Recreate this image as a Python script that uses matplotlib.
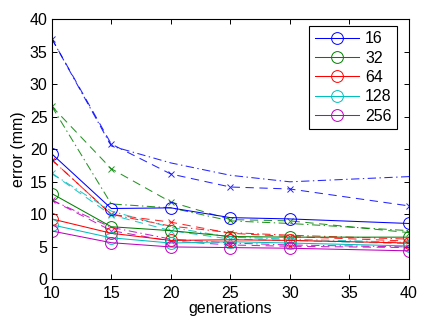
import numpy as np
import matplotlib
matplotlib.use('Agg')
import matplotlib.pyplot as plt

plt.rcParams['font.family'] = ['Liberation Sans', 'DejaVu Sans']
plt.rcParams['lines.scale_dashes'] = False

generations = [10, 15, 20, 25, 30, 40]
sizes = ['16', '32', '64', '128', '256']
colors = ['#0000ff', '#008000', '#ff0000', '#00bfbf', '#bf00bf']

# solid lines with circles
err_solid = [
    [19.3, 10.9, 11.0, 9.5, 9.3, 8.6],
    [13.2, 8.1, 7.5, 6.6, 6.5, 6.5],
    [9.3, 7.1, 6.0, 6.1, 6.0, 5.6],
    [8.4, 6.4, 5.6, 5.8, 5.6, 5.15],
    [7.45, 5.65, 5.0, 4.9, 4.8, 4.4],
]
# dashed lines with crosses
err_dashed = [
    [37.0, 20.8, 16.2, 14.2, 13.9, 11.3],
    [26.6, 17.0, 11.9, 9.2, 9.0, 7.2],
    [18.4, 10.0, 8.8, 7.1, 6.6, 5.9],
    [16.3, 9.9, 7.5, 6.2, 6.0, 5.5],
    [12.2, 7.5, 5.9, 5.3, 5.1, 4.9],
]
# dash-dot lines, no markers
err_dashdot = [
    [37.0, 20.5, 17.9, 16.0, 15.0, 15.8],
    [26.6, 11.6, 11.0, 9.0, 8.6, 7.5],
    [18.4, 10.0, 8.2, 7.2, 6.8, 6.2],
    [16.3, 10.5, 8.0, 6.5, 6.2, 5.7],
    [12.2, 8.0, 6.2, 5.6, 5.3, 5.0],
]

fig = plt.figure(figsize=(4.31, 3.22), dpi=100)
ax = fig.add_axes([0.12, 0.132, 0.829, 0.809])

lw = 0.75
for i, c in enumerate(colors):
    ax.plot(generations, err_dashdot[i], color=c, lw=lw, alpha=0.85,
            linestyle=(0, (6, 2.5, 1, 2.5)))
    ax.plot(generations, err_dashed[i], color=c, lw=lw, alpha=0.85,
            linestyle=(0, (6, 4)), marker='x', markersize=4, mew=0.7)
for i, c in enumerate(colors):
    ax.plot(generations, err_solid[i], color=c, lw=lw, marker='o',
            markersize=8.5, mfc='none', mew=0.7, label=sizes[i])

ax.set_xlim(10, 40)
ax.set_ylim(0, 40)
ax.set_xticks([10, 15, 20, 25, 30, 35, 40])
ax.set_yticks(np.arange(0, 41, 5))
ax.tick_params(direction='in', top=True, right=True, length=3.5,
               width=0.7, labelsize=11.5)
ax.tick_params(axis='x', pad=5)
ax.tick_params(axis='y', pad=3)
for sp in ax.spines.values():
    sp.set_linewidth(0.8)

ax.set_xlabel('generations', fontsize=11.5, labelpad=0)
ax.set_ylabel('error (mm)', fontsize=11.5, labelpad=3)

leg = ax.legend(loc='upper right', bbox_to_anchor=(0.966, 0.973),
                fontsize=11.5, fancybox=False, edgecolor='black',
                framealpha=1, handlelength=2.8, handletextpad=0.36,
                labelspacing=0.27, borderpad=0.33, borderaxespad=0)
leg.get_frame().set_linewidth(0.8)

fig.savefig('out.png', dpi=100, facecolor='white')
